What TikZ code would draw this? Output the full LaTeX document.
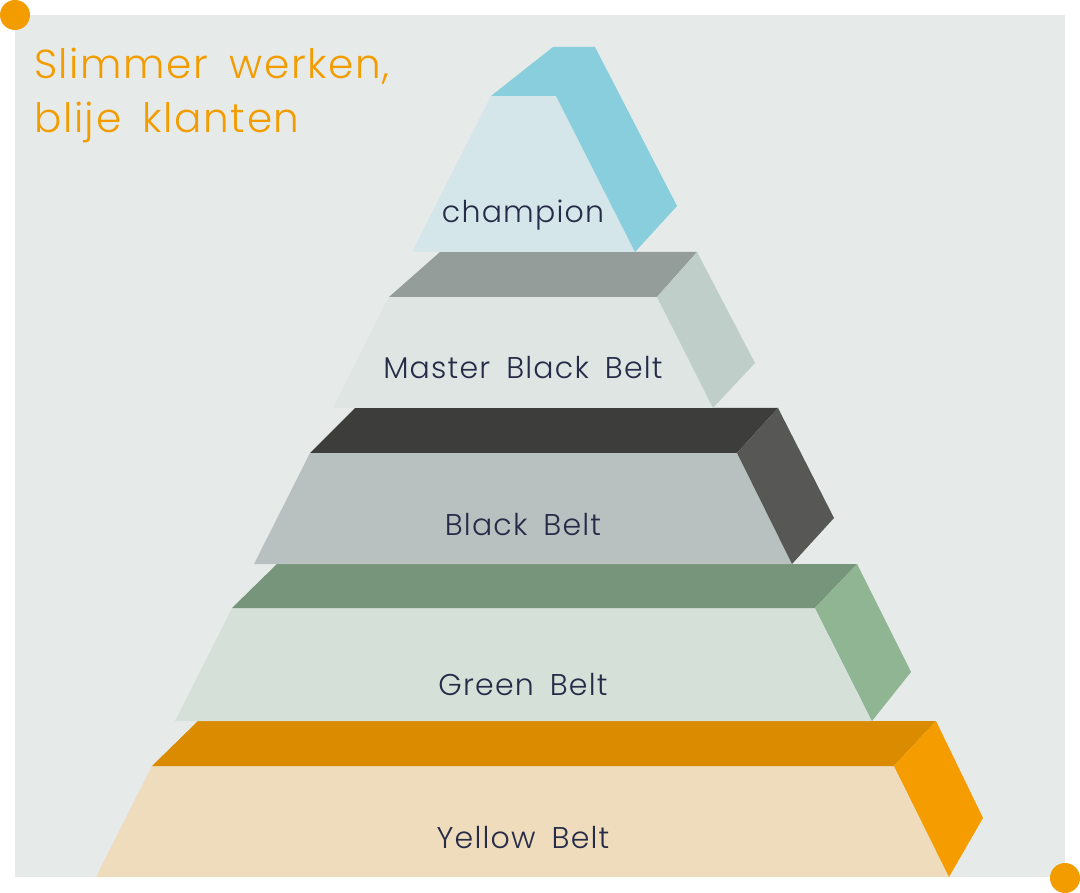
\documentclass[tikz,border=0pt]{standalone}
\usepackage{fontspec}
\setmainfont{Poppins}[UprightFont=* Light, LetterSpace=4, WordSpace=1.7]
\usepackage{xcolor}

\definecolor{bgGrey}{HTML}{E6EBEA}
\definecolor{dotOrange}{HTML}{F39C00}
\definecolor{labelNavy}{HTML}{262C48}
\definecolor{champFront}{HTML}{D4E6EA}
\definecolor{champSide}{HTML}{88CEDC}
\definecolor{masterFront}{HTML}{DFE5E3}
\definecolor{masterTop}{HTML}{949D99}
\definecolor{masterSide}{HTML}{C0CEC9}
\definecolor{blackFront}{HTML}{B9C0C0}
\definecolor{blackTop}{HTML}{3D3D3C}
\definecolor{blackSide}{HTML}{575756}
\definecolor{greenFront}{HTML}{D5E0D8}
\definecolor{greenTop}{HTML}{76957A}
\definecolor{greenSide}{HTML}{90B593}
\definecolor{yellowFront}{HTML}{EEDCBC}
\definecolor{yellowTop}{HTML}{DB8B00}
\definecolor{yellowSide}{HTML}{F49C00}

\tikzset{
    beltlabel/.style={text=labelNavy, font=\fontsize{30}{34}\selectfont, inner sep=0pt, anchor=base},
}

\begin{document}
\begin{tikzpicture}[x=1pt, y=-1pt]
    \useasboundingbox (0,0) rectangle (1080,893);

    % Background (grey card)
    \fill[bgGrey] (15,15) rectangle (1065,877);
    \fill[dotOrange] (15,15) circle (15);
    \fill[dotOrange] (1065,878) circle (15);
    \node[anchor=base west, align=left, text=dotOrange, inner sep=0pt,
          font=\fontsize{40.5}{54}\selectfont] (title) at (34,133) {Slimmer werken,\\blije klanten};

    % Yellow Belt
    \fill[yellowFront] (152,766) -- (894,766) -- (949,877) -- (96,877) -- cycle;
    \fill[yellowTop] (152,766) -- (198,721) -- (936,721) -- (894,766) -- cycle;
    \fill[yellowSide] (894,766) -- (936,721) -- (983,818) -- (949,877) -- cycle;
    \node[beltlabel] (yellow) at (523,848) {Yellow Belt};

    % Green Belt
    \fill[greenFront] (232,608) -- (815,608) -- (872,721) -- (175,721) -- cycle;
    \fill[greenTop] (232,608) -- (277,564) -- (857,564) -- (815,608) -- cycle;
    \fill[greenSide] (815,608) -- (857,564) -- (911,672) -- (872,721) -- cycle;
    \node[beltlabel] (green) at (523,695) {Green Belt};

    % Black Belt
    \fill[blackFront] (310,453) -- (737,453) -- (792,564) -- (254,564) -- cycle;
    \fill[blackTop] (310,453) -- (355,408) -- (778,408) -- (737,453) -- cycle;
    \fill[blackSide] (737,453) -- (778,408) -- (834,518) -- (792,564) -- cycle;
    \node[beltlabel] (black) at (523,535) {Black Belt};

    % Master Black Belt
    \fill[masterFront] (389,297) -- (657,297) -- (713,408) -- (333,408) -- cycle;
    \fill[masterTop] (389,297) -- (440,252) -- (697,252) -- (657,297) -- cycle;
    \fill[masterSide] (657,297) -- (697,252) -- (755,363) -- (713,408) -- cycle;
    \node[beltlabel] (master) at (523,379) {Master Black Belt};

    % Champion (top)
    \fill[champFront] (491,96) -- (556,96) -- (635,252) -- (412,252) -- cycle;
    \fill[champSide] (491,96) -- (553,47) -- (595,47) -- (677,206) -- (635,252) -- (556,96) -- cycle;
    \node[beltlabel] (champion) at (523,223) {champion};

\end{tikzpicture}
\end{document}
